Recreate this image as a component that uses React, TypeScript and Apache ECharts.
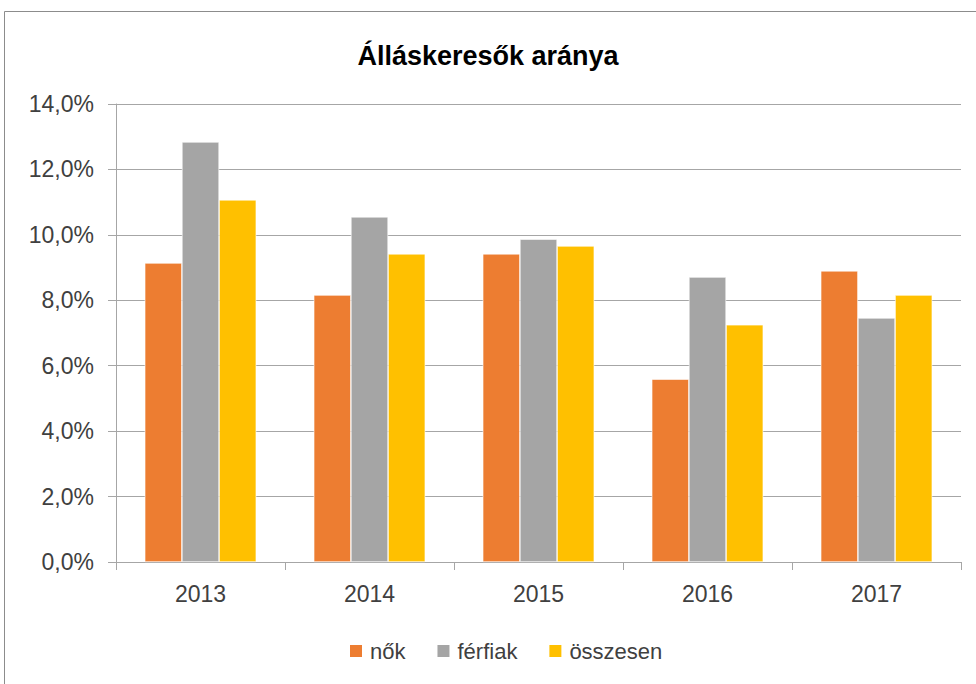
import React, { useEffect, useRef } from "react";
import * as echarts from "echarts";

const categories = ["2013", "2014", "2015", "2016", "2017"];
const nok = [9.14, 8.16, 9.42, 5.59, 8.9];
const ferfiak = [12.84, 10.55, 9.87, 8.71, 7.46];
const osszesen = [11.07, 9.42, 9.66, 7.25, 8.16];
const seriesNames = ["nők", "férfiak", "összesen"];
const colors = ["#ED7D31", "#A5A5A5", "#FFC000"];

const FONT = "Liberation Sans";

export default function App() {
  const ref = useRef<HTMLDivElement>(null);
  useEffect(() => {
    if (!ref.current) return;
    const chart = echarts.init(ref.current, undefined, { renderer: "svg" });
    const data = [nok, ferfiak, osszesen];
    chart.setOption({
      animation: false,
      backgroundColor: "#ffffff",
      title: {
        text: "Álláskeresők aránya",
        left: "center",
        top: 37,
        textStyle: { fontFamily: FONT, fontSize: 27, fontWeight: "bold", color: "#000000" },
      },
      graphic: [
        {
          type: "rect",
          shape: { x: 4.5, y: 11.5, width: 990, height: 700 },
          style: { fill: "none", stroke: "#8C8C8C", lineWidth: 1 },
          silent: true,
        },
      ],
      legend: {
        bottom: 17,
        left: 343,
        itemWidth: 14,
        itemHeight: 14,
        itemGap: 30,
        icon: "rect",
        textStyle: { fontFamily: FONT, fontSize: 22, color: "#404040", padding: [0, 0, 0, 2] },
        data: seriesNames,
      },
      grid: { left: 116, right: 15, top: 104, bottom: 122, containLabel: false },
      xAxis: {
        type: "category",
        data: categories,
        axisLine: { show: true, lineStyle: { color: "#A6A6A6", width: 1 } },
        axisTick: { show: true, length: 8, lineStyle: { color: "#A6A6A6" } },
        axisLabel: { fontFamily: FONT, fontSize: 23, color: "#404040", margin: 20 },
      },
      yAxis: {
        type: "value",
        min: 0,
        max: 14,
        interval: 2,
        axisLine: { show: true, lineStyle: { color: "#A6A6A6", width: 1 } },
        axisTick: { show: true, length: 8, lineStyle: { color: "#A6A6A6" } },
        splitLine: { show: true, lineStyle: { color: "#A6A6A6", width: 1 } },
        axisLabel: {
          fontFamily: FONT,
          fontSize: 23,
          color: "#404040",
          margin: 22,
          formatter: (v: number) => v.toFixed(1).replace(".", ",") + "%",
        },
      },
      series: seriesNames.map((name, i) => ({
        name,
        type: "bar",
        data: data[i],
        barGap: "0%",
        barCategoryGap: "34%",
        itemStyle: { color: colors[i], borderColor: "#ffffff", borderWidth: 0.6 },
      })),
    });
    return () => chart.dispose();
  }, []);
  return (
    <div
      ref={ref}
      style={{ position: "absolute", left: 0, top: 0, width: 976, height: 684 }}
    />
  );
}
